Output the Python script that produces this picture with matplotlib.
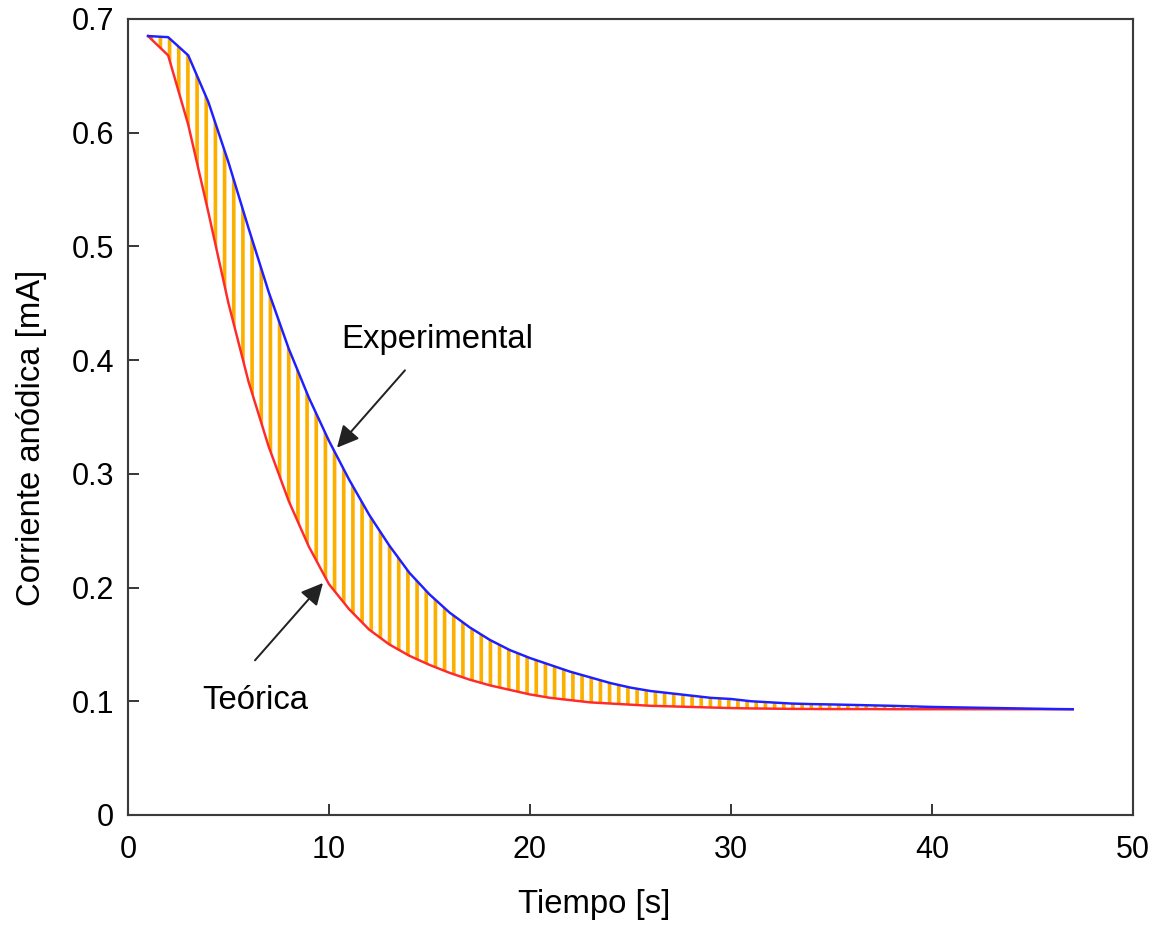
import matplotlib
matplotlib.use("Agg")
import matplotlib.pyplot as plt

# ---- data ----
tiempo = list(range(1, 48))  # s

experimental = [0.685, 0.684, 0.668, 0.627, 0.574, 0.516, 0.460, 0.410, 0.367, 0.329,
                0.295, 0.264, 0.237, 0.213, 0.194, 0.178, 0.165, 0.154, 0.145, 0.138,
                0.132, 0.126, 0.121, 0.116, 0.112, 0.109, 0.107, 0.105, 0.103, 0.102,
                0.100, 0.099, 0.098, 0.0975, 0.0972, 0.0968, 0.0964, 0.096, 0.0955, 0.095,
                0.0947, 0.0944, 0.0941, 0.0938, 0.0935, 0.0932, 0.093]

teorica = [0.685, 0.668, 0.607, 0.530, 0.450, 0.381, 0.324, 0.276, 0.236, 0.203,
           0.181, 0.163, 0.150, 0.140, 0.132, 0.125, 0.119, 0.114, 0.110, 0.106,
           0.103, 0.101, 0.099, 0.098, 0.097, 0.096, 0.0955, 0.095, 0.0945, 0.094,
           0.0937, 0.0935, 0.0933, 0.0932, 0.0931, 0.0931, 0.0931, 0.093, 0.093, 0.093,
           0.093, 0.093, 0.093, 0.093, 0.093, 0.093, 0.093]

x_ticks = [0, 10, 20, 30, 40, 50]
y_ticks = [0, 0.1, 0.2, 0.3, 0.4, 0.5, 0.6, 0.7]
y_tick_labels = ["0", "0.1", "0.2", "0.3", "0.4", "0.5", "0.6", "0.7"]

# ---- figure ----
DPI = 110
plt.rcParams['font.family'] = ['Liberation Sans', 'DejaVu Sans']
plt.rcParams['hatch.linewidth'] = 2.4

fig = plt.figure(figsize=(1161 / DPI, 926 / DPI), dpi=DPI)
ax = fig.add_axes([0.1102, 0.1199, 0.8657, 0.8596])

ax.fill_between(tiempo, teorica, experimental, facecolor='none',
                edgecolor='#FBB000', hatch='||', linewidth=0, zorder=1)
ax.plot(tiempo, teorica, color='#FF2A2A', lw=1.6, zorder=3)
ax.plot(tiempo, experimental, color='#1F1FFF', lw=1.6, zorder=3)

ax.set_xlim(0, 50)
ax.set_ylim(0, 0.7)
ax.set_xticks(x_ticks)
ax.set_xticklabels([str(v) for v in x_ticks])
ax.set_yticks(y_ticks)
ax.set_yticklabels(y_tick_labels)

for sp in ax.spines.values():
    sp.set_color('#3a3a3a')
    sp.set_linewidth(1.4)

ax.tick_params(axis='both', direction='in', length=7, width=1.3, color='#3a3a3a',
               labelsize=20, labelcolor='black')
ax.tick_params(axis='x', pad=13)
ax.tick_params(axis='y', pad=9)

ax.set_xlabel("Tiempo [s]", fontsize=21.5)
ax.xaxis.label.set_va('center')
ax.xaxis.set_label_coords(0.4637, -0.113)
ax.set_ylabel("Corriente anódica [mA]", fontsize=21.5)
ax.yaxis.label.set_va('center')
ax.yaxis.set_label_coords(-0.0955, 0.4736)

# annotations
ax.text(15.37, 0.418, "Experimental", fontsize=21.5, ha='center', va='center')
ax.annotate("", xy=(10.40, 0.323), xytext=(13.78, 0.391),
            arrowprops=dict(arrowstyle='-|>', mutation_scale=30, lw=1.3,
                            color='#222222', shrinkA=0, shrinkB=0))
ax.text(6.32, 0.101, "Teórica", fontsize=21.5, ha='center', va='center')
ax.annotate("", xy=(9.70, 0.204), xytext=(6.32, 0.136),
            arrowprops=dict(arrowstyle='-|>', mutation_scale=30, lw=1.3,
                            color='#222222', shrinkA=0, shrinkB=0))

fig.savefig("out.png", dpi=DPI)
